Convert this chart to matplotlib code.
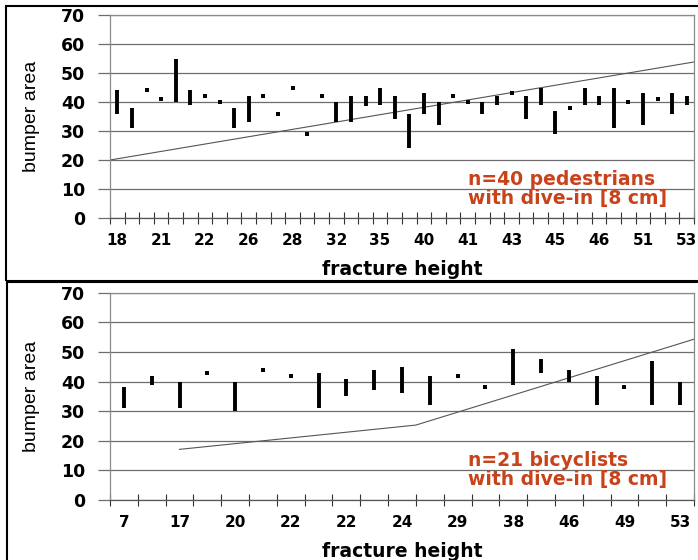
import numpy as np
import matplotlib
matplotlib.use("Agg")
import matplotlib.pyplot as plt
from matplotlib.patches import Rectangle

# ── data ──────────────────────────────────────────────────────────────────────
PED_HIGH = [44, 38, 44, 41, 55, 44, 42, 40, 38, 42, 42, 36, 45, 29, 42, 40,
            42, 42, 45, 42, 36, 43, 40, 42, 40, 40, 42, 43, 42, 45,
            37, 38, 45, 42, 45, 40, 43, 41, 43, 42]
PED_LOW  = [36, 31, 44, 41, 40, 39, 42, 40, 31, 33, 42, 36, 45, 29, 42, 33,
            33, 38.5, 39, 34, 24, 36, 32, 42, 40, 36, 39, 43, 34, 39,
            29, 38, 39, 39, 31, 40, 32, 41, 36, 39]
PED_TICKLABELS = ['18', '21', '22', '26', '28', '32', '35', '40', '41', '43',
                  '45', '46', '51', '53']
PED_TREND_X = [0, 40]
PED_TREND_Y = [20, 53.8]

BIC_HIGH = [38, 42, 40, 43, 40, 44, 42, 43, 41, 44, 45, 42, 42, 38, 51, 47.5,
            44, 42, 38, 47, 40]
BIC_LOW  = [31, 39, 31, 43, 30, 44, 42, 31, 35, 37, 36, 32, 42, 38, 39, 43,
            40, 32, 38, 32, 32]
BIC_TICKLABELS = ['7', '17', '20', '22', '22', '24', '29', '38', '46', '49', '53']
BIC_TREND_X = [2.5, 11.0, 21.0]
BIC_TREND_Y = [17.1, 25.3, 54.3]

GRID_COLOR = '#6e6e6e'
NOTE_COLOR = '#c8421a'


def draw_panel(ax, high, low, ticklabels, step, trend_x, trend_y, note):
    n = len(high)
    x = np.arange(n) + 0.5
    high = np.array(high, dtype=float)
    low = np.array(low, dtype=float)

    # trend line
    ax.plot(trend_x, trend_y, color='#555555', linewidth=0.8, zorder=2)

    # high-low bars, single values shown as small squares
    bar = high - low > 0.5
    ax.vlines(x[bar], low[bar], high[bar], color='black', linewidth=2.8,
              zorder=3)
    ax.plot(x[~bar], high[~bar], 's', color='black', markersize=2.3,
            markeredgewidth=0, zorder=3)

    ax.set_xlim(0, n)
    ax.set_ylim(0, 70)
    ax.set_yticks(range(0, 71, 10))
    ax.yaxis.grid(True, color=GRID_COLOR, linewidth=0.9)
    ax.set_axisbelow(True)

    ax.set_xticks(np.arange(n + 1))
    ax.set_xticklabels([])
    ax.set_xticks(x[::step], minor=True)
    ax.set_xticklabels(ticklabels, minor=True, fontsize=11, fontweight='bold')
    ax.tick_params(axis='x', which='major', direction='inout', length=8,
                   color='#333333', width=0.8)
    ax.tick_params(axis='x', which='minor', length=0, pad=11)
    ax.tick_params(axis='y', direction='out', length=9, color=GRID_COLOR,
                   width=0.9, labelsize=12.5, pad=9)
    for lab in ax.get_yticklabels():
        lab.set_fontweight('bold')

    for side in ['left', 'right', 'top']:
        ax.spines[side].set_color('#8a8a8a')
        ax.spines[side].set_linewidth(0.9)
    ax.spines['bottom'].set_color('#555555')
    ax.spines['bottom'].set_linewidth(0.9)

    ax.set_ylabel('bumper area', fontsize=14,
                  family=['Liberation Sans', 'DejaVu Sans'])
    ax.yaxis.set_label_coords(-0.12, 0.5)
    ax.set_xlabel('fracture height', fontsize=13.5, fontweight='bold')
    ax.xaxis.set_label_coords(0.5, -0.205)

    ax.text(0.613, 0.145, note, transform=ax.transAxes, ha='left',
            va='center', color=NOTE_COLOR, fontsize=13.5, fontweight='bold',
            linespacing=1.0)


fig = plt.figure(figsize=(6.98, 5.6), dpi=100)

# panel frames
fig.patches.append(Rectangle((6 / 698, 1 - 281 / 560), 1.0, 275 / 560,
                             transform=fig.transFigure, fill=False,
                             edgecolor='black', linewidth=1.5))
fig.patches.append(Rectangle((7 / 698, -0.02), 1.0, 1 - 282 / 560 + 0.02,
                             transform=fig.transFigure, fill=False,
                             edgecolor='black', linewidth=1.5))

ax1 = fig.add_axes([110 / 698, 1 - 218 / 560, 584 / 698, 203 / 560])
draw_panel(ax1, PED_HIGH, PED_LOW, PED_TICKLABELS, 3, PED_TREND_X,
           PED_TREND_Y, 'n=40 pedestrians\nwith dive-in [8 cm]')

ax2 = fig.add_axes([110 / 698, 1 - 500 / 560, 584 / 698, 207.3 / 560])
draw_panel(ax2, BIC_HIGH, BIC_LOW, BIC_TICKLABELS, 2, BIC_TREND_X,
           BIC_TREND_Y, 'n=21 bicyclists\nwith dive-in [8 cm]')

fig.savefig('out.png', dpi=100)
plt.close(fig)
